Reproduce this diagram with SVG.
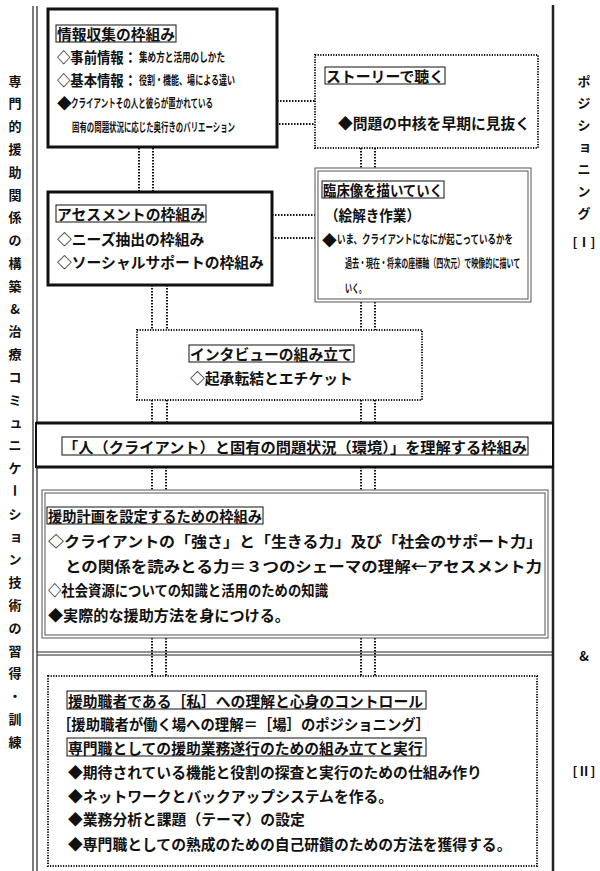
<svg xmlns="http://www.w3.org/2000/svg" width="600" height="871" viewBox="0 0 600 871">
<style>
text{font-family:"Noto Sans CJK JP","Noto Sans CJK SC",sans-serif;font-weight:700;fill:#111;dominant-baseline:central}
.n{font-size:14.8px}
.c{font-size:12px}
.thick{fill:#fff;stroke:#111;stroke-width:3}
.dbl{fill:none;stroke:#555;stroke-width:1}
.dotbox{fill:#fff;stroke:#111;stroke-width:2;stroke-dasharray:1.2 1.4}
.tb{fill:none;stroke:#111;stroke-width:1}
.conn{stroke:#111;stroke-width:2;stroke-dasharray:1.5 1.5;fill:none}
.side{font-size:13px;text-anchor:middle}
.frame{stroke:#222;fill:none}
</style>
<rect width="600" height="871" fill="#fff"/>
<g id="frame">
<line class="frame" x1="33" y1="6" x2="33" y2="871" stroke-width="1.2"/>
<line class="frame" x1="37" y1="6" x2="37" y2="871" stroke-width="1.2"/>
<line class="frame" x1="553" y1="5" x2="553" y2="871" stroke-width="2.5" stroke="#444"/>
<line class="frame" x1="37" y1="652" x2="553" y2="652" stroke-width="1"/>
<line class="frame" x1="37" y1="655" x2="553" y2="655" stroke-width="1" stroke="#777"/>
</g>
<g id="left-label">
<text class="side" x="15" y="80">専</text>
<text class="side" x="15" y="102.8">門</text>
<text class="side" x="15" y="125.6">的</text>
<text class="side" x="15" y="148.4">援</text>
<text class="side" x="15" y="171.2">助</text>
<text class="side" x="15" y="194">関</text>
<text class="side" x="15" y="216.8">係</text>
<text class="side" x="15" y="239.6">の</text>
<text class="side" x="15" y="262.4">構</text>
<text class="side" x="15" y="285.2">築</text>
<text class="side" x="15" y="308">&amp;</text>
<text class="side" x="15" y="330.8">治</text>
<text class="side" x="15" y="353.6">療</text>
<text class="side" x="15" y="376.4">コ</text>
<text class="side" x="15" y="399.2">ミ</text>
<text class="side" x="16" y="421">ュ</text>
<text class="side" x="15" y="444.8">ニ</text>
<text class="side" x="15" y="467.6">ケ</text>
<text class="side" x="15" y="490.4" transform="rotate(90 15 490.4)">ー</text>
<text class="side" x="15" y="513.2">シ</text>
<text class="side" x="16" y="535">ョ</text>
<text class="side" x="15" y="558.8">ン</text>
<text class="side" x="15" y="581.6">技</text>
<text class="side" x="15" y="604.4">術</text>
<text class="side" x="15" y="627.2">の</text>
<text class="side" x="15" y="650">習</text>
<text class="side" x="15" y="672.8">得</text>
<text class="side" x="15" y="695.6">・</text>
<text class="side" x="15" y="718.4">訓</text>
<text class="side" x="15" y="741.2">練</text>
</g>
<g id="right-label">
<text class="side" x="584" y="80">ポ</text>
<text class="side" x="584" y="102">ジ</text>
<text class="side" x="584" y="124">シ</text>
<text class="side" x="585" y="145">ョ</text>
<text class="side" x="584" y="168">ニ</text>
<text class="side" x="584" y="190">ン</text>
<text class="side" x="584" y="212">グ</text>
<text class="side" x="584" y="241">[Ⅰ]</text>
<text class="side" x="584" y="655">&amp;</text>
<text class="side" x="584" y="770">[Ⅱ]</text>
</g>
<g id="connectors">
<line class="conn" x1="139" y1="148" x2="139" y2="192"/>
<line class="conn" x1="153" y1="148" x2="153" y2="192"/>
<line class="conn" x1="361" y1="148" x2="361" y2="168"/>
<line class="conn" x1="375" y1="148" x2="375" y2="168"/>
<line class="conn" x1="152" y1="285" x2="152" y2="330"/>
<line class="conn" x1="167" y1="285" x2="167" y2="330"/>
<line class="conn" x1="361" y1="302" x2="361" y2="330"/>
<line class="conn" x1="375" y1="302" x2="375" y2="330"/>
<line class="conn" x1="152" y1="400" x2="152" y2="423"/>
<line class="conn" x1="167" y1="400" x2="167" y2="423"/>
<line class="conn" x1="361" y1="400" x2="361" y2="423"/>
<line class="conn" x1="375" y1="400" x2="375" y2="423"/>
<line class="conn" x1="152" y1="467" x2="152" y2="490"/>
<line class="conn" x1="166" y1="467" x2="166" y2="490"/>
<line class="conn" x1="361" y1="467" x2="361" y2="490"/>
<line class="conn" x1="375" y1="467" x2="375" y2="490"/>
<line class="conn" x1="152" y1="638" x2="152" y2="676"/>
<line class="conn" x1="166" y1="638" x2="166" y2="676"/>
<line class="conn" x1="361" y1="638" x2="361" y2="676"/>
<line class="conn" x1="375" y1="638" x2="375" y2="676"/>
<line class="conn" x1="277" y1="101" x2="315" y2="101"/>
<line class="conn" x1="240" y1="124" x2="336" y2="124"/>
<line class="conn" x1="272" y1="215" x2="316" y2="215"/>
<line class="conn" x1="272" y1="238" x2="316" y2="238"/>
</g>
<g id="joho">
<rect class="thick" x="48" y="9" width="229" height="138"/>
<rect class="tb" x="56" y="25" width="120" height="17"/>
<text class="n" x="57" y="33.5" textLength="118" lengthAdjust="spacingAndGlyphs">情報収集の枠組み</text>
<text class="n" x="57" y="56" textLength="80" lengthAdjust="spacingAndGlyphs">◇事前情報：</text>
<text class="c" x="139" y="56" textLength="86" lengthAdjust="spacingAndGlyphs">集め方と活用のしかた</text>
<text class="n" x="57" y="79" textLength="80" lengthAdjust="spacingAndGlyphs">◇基本情報：</text>
<text class="c" x="139" y="79" textLength="96" lengthAdjust="spacingAndGlyphs">役割・機能、場による違い</text>
<text class="n" x="57" y="102">◆</text>
<text class="c" x="71" y="102" textLength="142" lengthAdjust="spacingAndGlyphs">クライアントその人と彼らが置かれている</text>
<text class="c" x="72" y="126" textLength="163" lengthAdjust="spacingAndGlyphs">固有の問題状況に応じた奥行きのバリエーション</text>
</g>
<g id="story">
<rect class="dotbox" x="315" y="55" width="223" height="93"/>
<rect class="tb" x="325" y="67" width="120" height="17"/>
<text class="n" x="326" y="75.5" textLength="118" lengthAdjust="spacingAndGlyphs">ストーリーで聴く</text>
<text class="n" x="338" y="122" textLength="192" lengthAdjust="spacingAndGlyphs">◆問題の中核を早期に見抜く</text>
</g>
<g id="assessment">
<rect class="thick" x="48" y="192" width="224" height="93"/>
<rect class="tb" x="56" y="205" width="150" height="17"/>
<text class="n" x="57" y="213.5" textLength="148" lengthAdjust="spacingAndGlyphs">アセスメントの枠組み</text>
<text class="n" x="57" y="238">◇ニーズ抽出の枠組み</text>
<text class="n" x="57" y="261">◇ソーシャルサポートの枠組み</text>
</g>
<g id="rinsho">
<rect fill="#fff" stroke="#555" stroke-width="1" x="315" y="168" width="216" height="134"/>
<rect class="dbl" x="318" y="171" width="210" height="128"/>
<rect class="tb" x="322" y="181" width="122" height="17"/>
<text class="n" x="323" y="189.5" textLength="120" lengthAdjust="spacingAndGlyphs">臨床像を描いていく</text>
<text class="n" x="325" y="214" textLength="95" lengthAdjust="spacingAndGlyphs">（絵解き作業）</text>
<text class="n" x="322" y="239">◆</text>
<text class="c" transform="translate(337 239) scale(0.706 1)" x="0" y="0">いま、クライアントになにが起こっているかを</text>
<text class="c" transform="translate(345 263) scale(0.585 1)" x="0" y="0">過去・現在・将来の座標軸（四次元）で映像的に描いて</text>
<text class="c" x="345" y="287" textLength="21" lengthAdjust="spacingAndGlyphs">いく。</text>
</g>
<g id="interview">
<rect class="dotbox" x="137" y="330" width="285" height="70"/>
<rect class="tb" x="189" y="345" width="165" height="17"/>
<text class="n" x="190" y="353.5">インタビューの組み立て</text>
<text class="n" x="190" y="377">◇起承転結とエチケット</text>
</g>
<g id="header">
<rect fill="#fff" stroke="#111" stroke-width="2" x="36" y="423" width="517" height="44"/>
<line x1="36" y1="423" x2="554" y2="423" stroke="#111" stroke-width="3"/>
<line x1="36" y1="467" x2="554" y2="467" stroke="#111" stroke-width="3"/>
<rect class="tb" x="62" y="437" width="466" height="18"/>
<text class="n" x="63" y="446" textLength="464" lengthAdjust="spacingAndGlyphs">「人（クライアント）と固有の問題状況（環境）」を理解する枠組み</text>
</g>
<g id="enjo">
<rect fill="#fff" stroke="#555" stroke-width="1" x="42" y="490" width="506" height="148"/>
<rect class="dbl" x="45" y="493" width="500" height="142"/>
<rect class="tb" x="47" y="507" width="216" height="17"/>
<text class="n" x="48" y="515.5" textLength="214" lengthAdjust="spacingAndGlyphs">援助計画を設定するための枠組み</text>
<text class="n" x="48" y="540" textLength="494" lengthAdjust="spacingAndGlyphs">◇クライアントの「強さ」と「生きる力」及び「社会のサポート力」</text>
<text class="n" x="65" y="565" textLength="477" lengthAdjust="spacingAndGlyphs">との関係を読みとる力＝３つのシェーマの理解←アセスメント力</text>
<text class="n" x="48" y="589" textLength="280" lengthAdjust="spacingAndGlyphs">◇社会資源についての知識と活用のための知識</text>
<text class="n" x="48" y="614" textLength="242" lengthAdjust="spacingAndGlyphs">◆実際的な援助方法を身につける。</text>
</g>
<g id="senmon">
<rect class="dotbox" x="48" y="676" width="489" height="190"/>
<rect class="tb" x="67" y="691" width="359" height="18"/>
<text class="n" x="68" y="700">援助職者である［私］への理解と心身のコントロール</text>
<text class="n" x="57" y="723" textLength="373" lengthAdjust="spacingAndGlyphs">［援助職者が働く場への理解＝［場］のポジショニング］</text>
<rect class="tb" x="67" y="738" width="359" height="18"/>
<text class="n" x="68" y="747">専門職としての援助業務遂行のための組み立てと実行</text>
<text class="n" x="68" y="771">◆期待されている機能と役割の探査と実行のための仕組み作り</text>
<text class="n" x="68" y="795">◆ネットワークとバックアップシステムを作る。</text>
<text class="n" x="68" y="818">◆業務分析と課題（テーマ）の設定</text>
<text class="n" x="68" y="843">◆専門職としての熟成のための自己研鑽のための方法を獲得する。</text>
</g>
</svg>
